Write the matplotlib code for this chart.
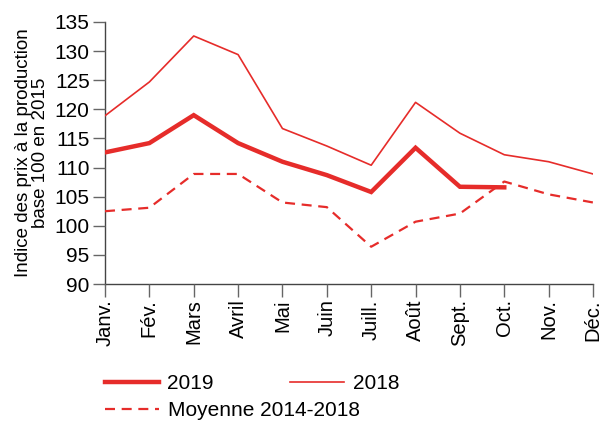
import matplotlib
matplotlib.use("Agg")
import matplotlib.pyplot as plt

months = ["Janv.", "Fév.", "Mars", "Avril", "Mai", "Juin", "Juill.", "Août",
          "Sept.", "Oct.", "Nov.", "Déc."]
s2019 = [112.6, 114.2, 119.0, 114.2, 111.0, 108.7, 105.8, 113.4, 106.7, 106.6]
s2018 = [118.9, 124.7, 132.6, 129.4, 116.7, 113.7, 110.4, 121.2, 115.9, 112.2, 111.0, 108.9]
moy = [102.5, 103.1, 108.9, 108.9, 104.0, 103.2, 96.4, 100.7, 102.1, 107.6, 105.4, 104.0]
yticks = [90, 95, 100, 105, 110, 115, 120, 125, 130, 135]

plt.rcParams['font.family'] = ['Liberation Sans', 'DejaVu Sans']
red = "#e62c2a"
W, H = 606, 421
fig = plt.figure(figsize=(W / 100, H / 100), dpi=100)
ax = fig.add_axes([105 / W, 1 - 284 / H, (593 - 105) / W, (284 - 22) / H])

x = list(range(len(months)))
ax.plot(x[:len(s2019)], s2019, color=red, lw=3.2, solid_joinstyle='miter', label="2019")
ax.plot(x, s2018, color=red, lw=1.2, label="2018")
ax.plot(x, moy, color=red, lw=1.6, dashes=(4.5, 3), label="Moyenne 2014-2018")

ax.set_xlim(0, 11)
ax.set_ylim(90, 135)
ax.set_xticks(x)
ax.set_xticklabels(months, rotation=90, fontsize=14.5)
ax.set_yticks(yticks)
ax.set_yticklabels([str(v) for v in yticks], fontsize=15)
for s in ["top", "right"]:
    ax.spines[s].set_visible(False)
for s in ["left", "bottom"]:
    ax.spines[s].set_color("#444444")
    ax.spines[s].set_linewidth(1.0)
    ax.spines[s].set_zorder(0)
ax.tick_params(axis="both", direction="out", color="#666666", width=1.0, length=9, pad=2)
ax.set_ylabel("Indice des prix à la production\nbase 100 en 2015", fontsize=13.5,
              linespacing=1.0, labelpad=4)

h = ax.get_lines()
fig.legend([h[0], h[1]], ["2019", "2018"], ncol=2, loc="upper left",
           bbox_to_anchor=(105 / W, 1 - 374 / H), frameon=False, fontsize=15,
           handlelength=2.6, handletextpad=0.4, columnspacing=3.65,
           borderaxespad=0, borderpad=0)
fig.legend([h[2]], ["Moyenne 2014-2018"], loc="upper left",
           bbox_to_anchor=(105 / W, 1 - 401 / H), frameon=False, fontsize=15,
           handlelength=2.6, handletextpad=0.4, borderaxespad=0, borderpad=0)

fig.savefig("out.png", dpi=100)
